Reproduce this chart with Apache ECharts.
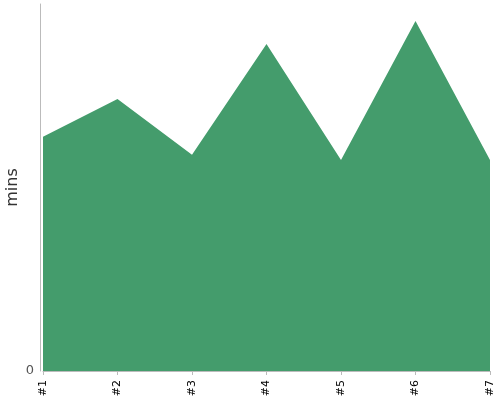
<!DOCTYPE html>
<html>
<head>
<meta charset="utf-8">
<script src="https://cdn.jsdelivr.net/npm/echarts@6/dist/echarts.min.js"></script>
<style>
  html, body { margin: 0; padding: 0; background: #fff; }
  #chart { width: 500px; height: 400px; }
</style>
</head>
<body>
<div id="chart"></div>
<script>
// categories and values
const categories = ['#1', '#2', '#3', '#4', '#5', '#6', '#7'];
const minutes = [63.8, 74.1, 58.9, 89.1, 57.5, 95.4, 57.5];

window.onload = () => {
    let chart = echarts.init(document.getElementById('chart'));
    chart.setOption({
        animation: false,
        grid: {
            left: 43,
            right: 10,
            top: 4,
            bottom: 29,
            outerBoundsMode: 'none',
            containLabel: false
        },
        xAxis: {
            type: 'category',
            data: categories,
            boundaryGap: false,
            offset: 3,
            axisLine: { lineStyle: { color: '#bbb' } },
            axisTick: { lineStyle: { color: '#bbb' }, length: 4 },
            axisLabel: {
                rotate: 90,
                color: '#000',
                fontSize: 11,
                fontFamily: 'DejaVu Sans',
                margin: 6
            }
        },
        yAxis: {
            type: 'value',
            min: 0,
            max: 100,
            interval: 100,
            offset: 3,
            name: 'mins',
            nameLocation: 'middle',
            nameGap: 19,
            nameMoveOverlap: false,
            nameTextStyle: { color: '#333', fontSize: 16, fontFamily: 'DejaVu Sans' },
            splitLine: { show: false },
            axisTick: { show: false },
            axisLine: { show: true, lineStyle: { color: '#bbb' } },
            axisLabel: {
                color: '#555',
                fontSize: 13,
                fontFamily: 'DejaVu Sans',
                margin: 6,
                formatter: v => (v === 0 ? '0' : '')
            }
        },
        series: [{
            type: 'line',
            data: minutes,
            symbol: 'none',
            lineStyle: { width: 0 },
            areaStyle: { color: '#449c6c', opacity: 1 }
        }]
    });
};
</script>
</body>
</html>
